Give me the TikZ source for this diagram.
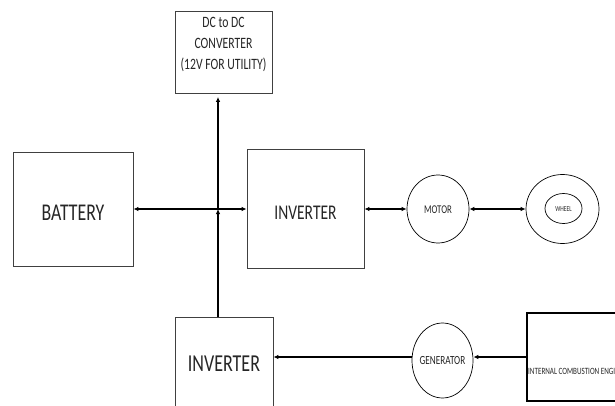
\documentclass[tikz,border=0pt]{standalone}
\usepackage{fontspec}
\setmainfont{Carlito}
\usepackage{graphicx}
\usetikzlibrary{arrows.meta,shapes.geometric}
% narrow, tall lettering used for all labels
\newcommand{\talltxt}[1]{\scalebox{1}[1.35]{#1}}
\tikzset{
  blockbox/.style={draw=black!75, line width=0.8pt, rectangle, inner sep=0pt},
  roundbox/.style={draw=black, line width=0.7pt, ellipse, inner sep=0pt},
  flow/.style={line width=1.3pt, -{Latex[length=5pt,width=4.5pt]}},
  twoway/.style={line width=1.3pt, {Latex[length=5pt,width=4.5pt]}-{Latex[length=5pt,width=4.5pt]}},
  txt/.style={inner sep=0pt, text=black!85}
}
\begin{document}
\begin{tikzpicture}[x=1pt,y=-1pt]
\clip (0,0) rectangle (615,406);
\fill[white] (0,0) rectangle (615,406);

% blocks
\node[blockbox, minimum width=97pt, minimum height=82pt] (dc) at (223.5,52.5) {};
\node[txt, font=\fontsize{11.7}{20}\selectfont] (dctext) at (223.5,43)
  {\talltxt{\begin{tabular}{@{}c@{}}DC to DC\\[-4.5pt] CONVERTER\\[-4.5pt] (12V FOR UTILITY)\end{tabular}}};
\node[blockbox, minimum width=120pt, minimum height=114pt] (bat) at (73,209) {};
\node[txt, font=\fontsize{17.8}{20}\selectfont] (battext) at (73,213) {\talltxt{BATTERY}};
\node[blockbox, minimum width=117pt, minimum height=119pt] (inv1) at (305.5,208.5) {};
\node[txt, font=\fontsize{15.5}{18}\selectfont] (inv1text) at (305.5,213) {\talltxt{INVERTER}};
\node[blockbox, minimum width=98pt, minimum height=93pt] (inv2) at (224,363.5) {};
\node[txt, font=\fontsize{18}{20}\selectfont] (inv2text) at (224,363.5) {\talltxt{INVERTER}};

% machines
\node[roundbox, minimum width=62pt, minimum height=68pt] (motor) at (438,209) {};
\node[txt, font=\fontsize{8.8}{10}\selectfont] (motortext) at (438,210) {\talltxt{MOTOR}};
\node[roundbox, minimum width=73pt, minimum height=69pt] (wheel) at (562.5,209) {};
\node[roundbox, minimum width=37pt, minimum height=30pt] (hub) at (563.5,208.5) {};
\node[txt, font=\fontsize{5.6}{7}\selectfont] (hubtext) at (563.5,209) {\talltxt{WHEEL}};
\node[roundbox, minimum width=61pt, minimum height=75pt] (gen) at (442.5,360.5) {};
\node[txt, font=\fontsize{9.2}{10}\selectfont] (gentext) at (442.5,361) {\talltxt{GENERATOR}};
\node[draw=black, line width=1.6pt, rectangle, inner sep=0pt,
      minimum width=130pt, minimum height=88pt] (ice) at (592,357) {};
\node[txt, anchor=west, font=\fontsize{7.1}{8}\selectfont] (icetext) at (528,371)
  {\talltxt{INTERNAL COMBUSTION ENGINE}};

% power paths
\coordinate (j) at (218,209);
\draw[twoway] (bat.east |- j) -- (inv1.west |- j);
\draw[flow] (inv2.north -| j) -- (j);
\draw[flow, shorten >=3pt] (j) -- (dc.south -| j);
\draw[twoway] (inv1.east |- j) -- (motor.west |- j);
\draw[twoway] (motor.east |- j) -- (wheel.west |- j);
\coordinate (g) at (0,357);
\draw[flow] (ice.west |- g) -- (gen.east |- g);
\draw[flow] (gen.west |- g) -- (inv2.east |- g);
\end{tikzpicture}
\end{document}
